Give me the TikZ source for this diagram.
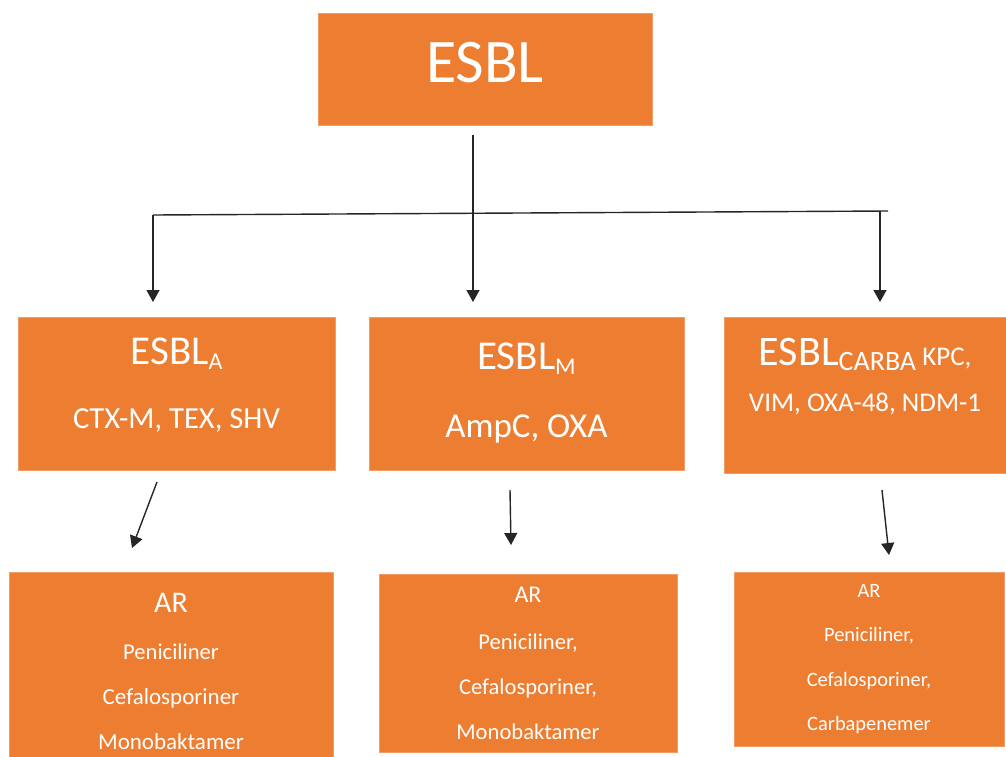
\documentclass[tikz,border=0pt]{standalone}
\usepackage{fontspec}
\setmainfont{Carlito}
\usepackage{tikz}
\usetikzlibrary{arrows.meta}
\definecolor{esblorange}{HTML}{ED7D31}
\newcommand{\fs}[2]{\fontsize{#1}{#2}\selectfont}
\newcommand{\sub}[1]{\raisebox{-2.5pt}{#1}}

\begin{document}
\begin{tikzpicture}[x=0.5pt, y=-0.5pt,
  box/.style={fill=esblorange, draw=esblorange!75!white, line width=0.4pt, text=white, align=center, inner sep=0pt},
  arr/.style={-{Triangle[length=6pt,width=6.5pt]}, line width=0.7pt, draw=black!85}]
\clip (0,0) rectangle (1006,756);
\node[box, minimum width=167pt, minimum height=56pt, font=\fs{31}{36}] (esbl) at (485,69) {ESBL\rule[-7pt]{0pt}{0pt}};
\node[box, minimum width=158.5pt, minimum height=76.5pt, font=\fs{20.5}{32}] (esblA) at (176.5,393.5)
  {ESBL\sub{\fs{12}{32}A}\\\fs{15.3}{32}CTX-M, TEX, SHV\rule[-10pt]{0pt}{0pt}};
\node[box, minimum width=157.5pt, minimum height=76.5pt, font=\fs{20.5}{34}] (esblM) at (526.5,393.5)
  {ESBL\sub{\fs{12}{34}M}\\\fs{17.5}{34}AmpC, OXA};
\node[box, minimum width=141pt, minimum height=78pt, font=\fs{21}{23}] (esblC) at (865,395)
  {ESBL\sub{\fs{14}{23}CARBA}\fs{13.5}{23} KPC,\\\fs{13.5}{23}VIM, OXA-48, NDM-1\rule[-20pt]{0pt}{0pt}};
\node[box, minimum width=162pt, minimum height=99pt, font=\fs{11.5}{22.5}] (arA) at (171,671)
  {\fs{15}{22.5}AR\\[1pt]\fs{11.3}{22.5}Peniciliner\\Cefalosporiner\\Monobaktamer};
\node[box, minimum width=149pt, minimum height=89pt, font=\fs{11.3}{22.5}] (arM) at (528,663)
  {\fs{12}{22.5}AR\\[1pt]\fs{11.3}{22.5}Peniciliner,\\Cefalosporiner,\\Monobaktamer};
\node[box, minimum width=135pt, minimum height=87pt, font=\fs{10.2}{22.2}] (arC) at (869,659)
  {AR\\Peniciliner,\\Cefalosporiner,\\Carbapenemer};
\coordinate (stem) at (473,135);
\coordinate (hubL) at (153,215);
\coordinate (hubR) at (888,211);
\coordinate (dropC) at (880,211.2);
\coordinate (tipA) at (153,302);
\coordinate (tipM) at (473,302);
\coordinate (tipC) at (880,302);
\draw[line width=0.7pt, draw=black!85] (hubL) -- (hubR);
\draw[arr] (stem) -- (tipM);
\draw[arr] (hubL) -- (tipA);
\draw[arr] (dropC) -- (tipC);
\coordinate (outA) at (157,482);
\coordinate (inA) at (132,548);
\coordinate (outM) at (510,490);
\coordinate (inM) at (511,545);
\coordinate (outC) at (882,490);
\coordinate (inC) at (889,555);
\draw[arr] (outA) -- (inA);
\draw[arr] (outM) -- (inM);
\draw[arr] (outC) -- (inC);
\end{tikzpicture}
\end{document}
